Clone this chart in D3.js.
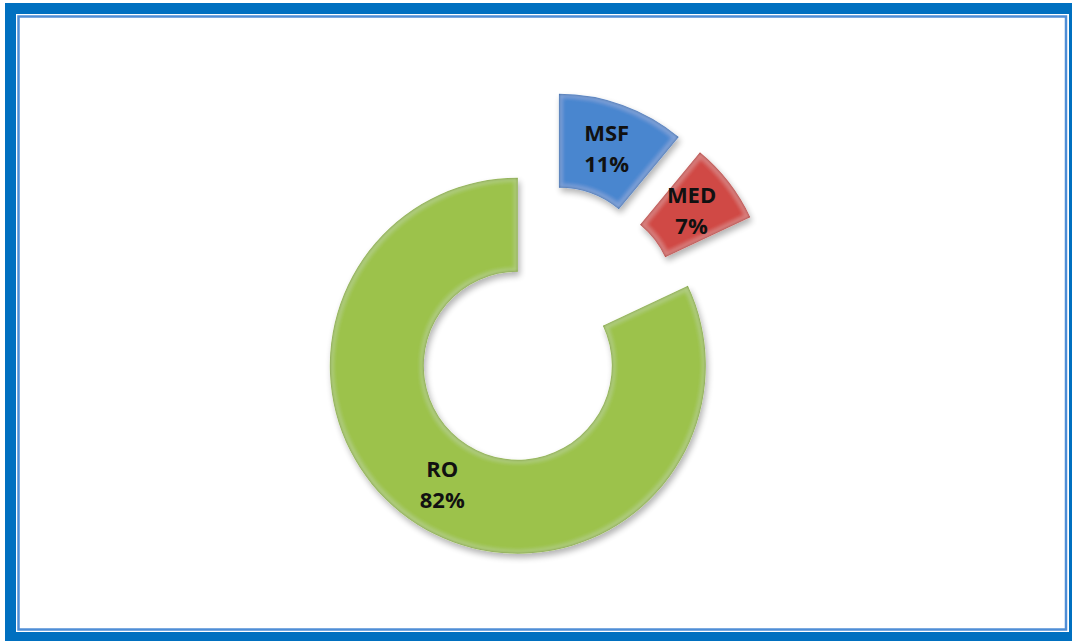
<!DOCTYPE html>
<html>
<head>
<meta charset="utf-8">
<script src="https://cdn.jsdelivr.net/npm/d3@7"></script>
<style>
html,body{margin:0;padding:0;background:#fff;}
svg{display:block;}
</style>
</head>
<body>
<svg id="chart" width="1072" height="641"></svg>
<script>
// Data
const categories = ["MSF", "MED", "RO"];
const values = [11, 7, 82];
const labels = ["11%", "7%", "82%"];
const colors = ["#4A86CF", "#D04A44", "#9CC24B"];

const W = 1072, H = 641;
const svg = d3.select("#chart");

// Frame
svg.append("rect").attr("x", 5).attr("y", 3).attr("width", W - 5).attr("height", H - 3).attr("fill", "#0070C0");
svg.append("rect").attr("x", 16).attr("y", 14).attr("width", 1053).attr("height", 618).attr("fill", "#fff");
svg.append("rect").attr("x", 18.5).attr("y", 16.5).attr("width", 1047.5).attr("height", 613).attr("fill", "none")
  .attr("stroke", "#4F8ED6").attr("stroke-width", 2.5);

// Filters
const defs = svg.append("defs");
const f = defs.append("filter").attr("id", "bevel").attr("x", "-20%").attr("y", "-20%").attr("width", "140%").attr("height", "140%");
f.append("feGaussianBlur").attr("in", "SourceAlpha").attr("stdDeviation", 3).attr("result", "sh");
f.append("feOffset").attr("in", "sh").attr("dx", 2).attr("dy", 4).attr("result", "sho");
f.append("feComponentTransfer").attr("in", "sho").attr("result", "shadow")
  .append("feFuncA").attr("type", "linear").attr("slope", 0.3);
// dark inner edge
f.append("feGaussianBlur").attr("in", "SourceAlpha").attr("stdDeviation", 1.8).attr("result", "b");
f.append("feComposite").attr("in", "SourceAlpha").attr("in2", "b").attr("operator", "arithmetic")
  .attr("k2", 1).attr("k3", -1).attr("result", "edge");
f.append("feFlood").attr("flood-color", "#000").attr("flood-opacity", 0.6).attr("result", "fl");
f.append("feComposite").attr("in", "fl").attr("in2", "edge").attr("operator", "in").attr("result", "dark");
// light band just inside the edge
f.append("feMorphology").attr("in", "SourceAlpha").attr("operator", "erode").attr("radius", 3).attr("result", "er");
f.append("feGaussianBlur").attr("in", "er").attr("stdDeviation", 2).attr("result", "erb");
f.append("feComposite").attr("in", "erb").attr("in2", "b").attr("operator", "arithmetic")
  .attr("k2", -1).attr("k3", 1).attr("result", "ring0");
f.append("feComposite").attr("in", "ring0").attr("in2", "SourceAlpha").attr("operator", "in").attr("result", "ring");
f.append("feFlood").attr("flood-color", "#fff").attr("flood-opacity", 0.18).attr("result", "wf");
f.append("feComposite").attr("in", "wf").attr("in2", "ring").attr("operator", "in").attr("result", "light");
const m = f.append("feMerge");
m.append("feMergeNode").attr("in", "shadow");
m.append("feMergeNode").attr("in", "SourceGraphic");
m.append("feMergeNode").attr("in", "light");
m.append("feMergeNode").attr("in", "dark");

// Pie
const cx = 543, cy = 326;
const outerR = 188, innerR = 94, explode = 47;
const pie = d3.pie().sort(null).value(d => d.v);
const data = pie(categories.map((c, i) => ({ c, v: values[i], l: labels[i], col: colors[i] })));
const arc = d3.arc().innerRadius(innerR).outerRadius(outerR);

const g = svg.append("g").attr("transform", `translate(${cx},${cy})`);
const slices = g.selectAll("g.slice").data(data).join("g").attr("class", "slice")
  .attr("transform", d => {
    const a = (d.startAngle + d.endAngle) / 2;
    return `translate(${explode * Math.sin(a)},${-explode * Math.cos(a)})`;
  });
slices.append("path").attr("d", arc).attr("fill", d => d.data.col).attr("filter", "url(#bevel)");

const txt = slices.append("text")
  .attr("transform", d => `translate(${arc.centroid(d)})`)
  .attr("text-anchor", "middle")
  .attr("font-family", "'Open Sans', sans-serif")
  .attr("font-weight", "bold")
  .attr("font-size", 22)
  .attr("fill", "#111");
txt.append("tspan").attr("x", 0).attr("y", -8).text(d => d.data.c);
txt.append("tspan").attr("x", 0).attr("y", 23).text(d => d.data.l);
</script>
</body>
</html>
